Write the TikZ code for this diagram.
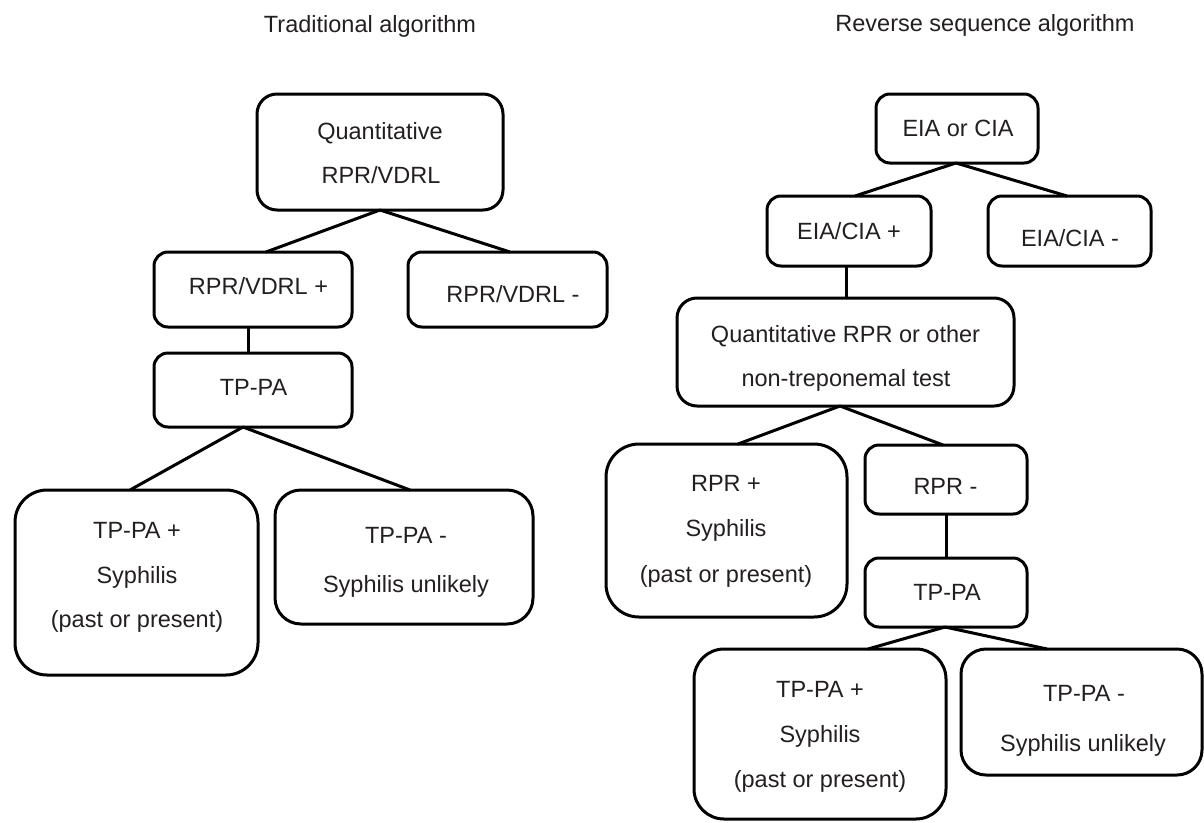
\documentclass[tikz,border=0pt]{standalone}
\usepackage{fontspec}
\setmainfont{Liberation Sans}
\definecolor{ink}{HTML}{231F20}
\begin{document}
\begin{tikzpicture}[x=1pt,y=-1pt,
  stepbox/.style={draw=black, line width=3pt, inner sep=0pt, outer sep=0pt},
  txt/.style={font=\fontsize{23.5}{28}\selectfont, text=ink, inner sep=0pt, anchor=base},
  conn/.style={draw=black, line width=3pt}]
\useasboundingbox (0,0) rectangle (1204,822);

% titles
\node[txt] (title1) at (370,32) {Traditional algorithm};
\node[txt] (title2) at (985,31) {Reverse sequence algorithm};

% ---------- left: traditional ----------
\node[stepbox, rounded corners=20pt, minimum width=246pt, minimum height=116pt] (q) at (380,152) {};
\node[stepbox, rounded corners=14pt, minimum width=198pt, minimum height=75pt] (rp) at (253,289.5) {};
\node[stepbox, rounded corners=14pt, minimum width=199pt, minimum height=75pt] (rm) at (507.5,289.5) {};
\node[stepbox, rounded corners=14pt, minimum width=198pt, minimum height=74pt] (tp) at (253,390) {};
\node[stepbox, rounded corners=32pt, minimum width=243pt, minimum height=185pt] (tpp) at (136.5,582.5) {};
\node[stepbox, rounded corners=26pt, minimum width=258pt, minimum height=134pt] (tpm) at (404,557) {};

\node[txt] (q1) at (380,139) {Quantitative};
\node[txt] (q2) at (381,183) {RPR/VDRL};
\node[txt] (rpt) at (258.5,294) {RPR/VDRL +};
\node[txt] (rmt) at (513,302) {RPR/VDRL -};
\node[txt] (tpt) at (253.5,395) {TP-PA};
\node[txt] (tpp1) at (137,538) {TP-PA +};
\node[txt] (tpp2) at (137,583) {Syphilis};
\node[txt] (tpp3) at (137,627) {(past or present)};
\node[txt] (tpm1) at (406,543) {TP-PA -};
\node[txt] (tpm2) at (406,592) {Syphilis unlikely};

\draw[conn] (q.south) -- ([xshift=13pt]rp.north);
\draw[conn] (q.south) -- ([xshift=2.5pt]rm.north);
\draw[conn] ([xshift=-5pt]rp.south) -- ([xshift=-5pt]tp.north);
\draw[conn] ([xshift=-10pt]tp.south) -- ([xshift=-6.5pt]tpp.north);
\draw[conn] ([xshift=-10pt]tp.south) -- ([xshift=6pt]tpm.north);

% ---------- right: reverse sequence ----------
\node[stepbox, rounded corners=14pt, minimum width=162pt, minimum height=69pt] (eia) at (957,128.5) {};
\node[stepbox, rounded corners=14pt, minimum width=164pt, minimum height=70pt] (ep) at (849,231) {};
\node[stepbox, rounded corners=14pt, minimum width=163pt, minimum height=70pt] (em) at (1069.5,231) {};
\node[stepbox, rounded corners=20pt, minimum width=337pt, minimum height=108pt] (qr) at (845.5,352) {};
\node[stepbox, rounded corners=33pt, minimum width=241pt, minimum height=173pt] (rpb) at (726.5,530.5) {};
\node[stepbox, rounded corners=14pt, minimum width=162pt, minimum height=69pt] (rmb) at (946,479.5) {};
\node[stepbox, rounded corners=14pt, minimum width=162pt, minimum height=69pt] (tpb) at (946,592.5) {};
\node[stepbox, rounded corners=30pt, minimum width=252pt, minimum height=170pt] (tppb) at (820,734) {};
\node[stepbox, rounded corners=25pt, minimum width=241pt, minimum height=126pt] (tpmb) at (1081.5,712) {};

\node[txt] (eiat) at (958,136) {EIA or CIA};
\node[txt] (ept) at (849,239) {EIA/CIA +};
\node[txt] (emt) at (1070,246) {EIA/CIA -};
\node[txt] (qr1) at (845.5,342) {Quantitative RPR or other};
\node[txt] (qr2) at (846,386) {non-treponemal test};
\node[txt] (rpb1) at (726,491) {RPR +};
\node[txt] (rpb2) at (726,536) {Syphilis};
\node[txt] (rpb3) at (726,582) {(past or present)};
\node[txt] (rmbt) at (945.5,494) {RPR -};
\node[txt] (tpbt) at (947,600) {TP-PA};
\node[txt] (tppb1) at (820,697) {TP-PA +};
\node[txt] (tppb2) at (820,742) {Syphilis};
\node[txt] (tppb3) at (820,787) {(past or present)};
\node[txt] (tpmb1) at (1084,701) {TP-PA -};
\node[txt] (tpmb2) at (1083,751) {Syphilis unlikely};

\draw[conn] ([xshift=-1pt]eia.south) -- ([xshift=6pt]ep.north);
\draw[conn] ([xshift=-1pt]eia.south) -- ([xshift=-2.5pt]em.north);
\draw[conn] ([xshift=-3pt]ep.south) -- ([xshift=0.5pt]qr.north);
\draw[conn] ([xshift=-5.5pt]qr.south) -- ([xshift=11.5pt]rpb.north);
\draw[conn] ([xshift=-5.5pt]qr.south) -- ([xshift=-3pt]rmb.north);
\draw[conn] (rmb.south) -- (tpb.north);
\draw[conn] ([xshift=-1pt]tpb.south) -- ([xshift=48pt]tppb.north);
\draw[conn] ([xshift=-1pt]tpb.south) -- ([xshift=-34.5pt]tpmb.north);
\end{tikzpicture}
\end{document}
